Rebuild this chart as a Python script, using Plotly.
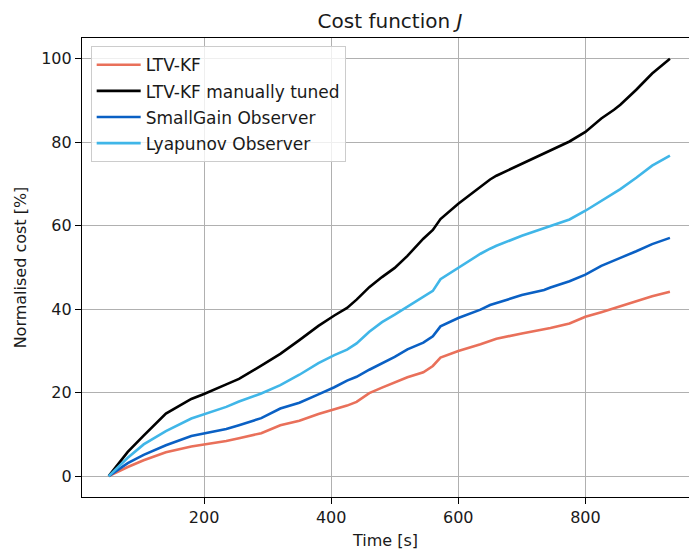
import plotly.graph_objects as go

# Time stamps [s] shared by all observers
time_s = [50, 80, 105, 140, 180, 200, 235, 255, 290, 320, 350, 380, 405, 425,
          440, 460, 480, 500, 520, 545, 560, 572, 600, 635, 650, 660, 700, 735,
          745, 775, 800, 825, 845, 855, 880, 905, 933]

# Normalised cumulative cost [%] per estimator
ltv_kf = [0, 2.2, 3.8, 5.7, 7.1, 7.6, 8.4, 9.1, 10.3, 12.2, 13.3, 14.9, 16.0, 16.9,
          17.8, 19.9, 21.2, 22.5, 23.7, 24.9, 26.4, 28.4, 30.0, 31.6, 32.4, 32.9, 34.2, 35.1,
          35.5, 36.6, 38.2, 39.3, 40.3, 40.8, 41.9, 43.1, 44.2]
ltv_kf_tuned = [0, 5.8, 9.7, 15.0, 18.5, 19.7, 22.0, 23.3, 26.5, 29.3, 32.6, 36.0, 38.5, 40.3,
                42.3, 45.3, 47.7, 49.9, 52.8, 56.9, 59.0, 61.6, 65.3, 69.5, 71.1, 72.0, 74.9, 77.3,
                78.0, 80.2, 82.5, 85.7, 87.8, 89.0, 92.6, 96.5, 100.0]
smallgain = [0, 3.1, 5.1, 7.4, 9.6, 10.2, 11.3, 12.2, 13.9, 16.2, 17.6, 19.6, 21.3, 22.9,
             23.8, 25.5, 27.0, 28.6, 30.4, 32.0, 33.5, 35.9, 37.9, 39.9, 41.0, 41.5, 43.4, 44.6,
             45.2, 46.7, 48.3, 50.4, 51.6, 52.3, 53.9, 55.6, 57.1]
lyapunov = [0, 4.4, 7.6, 10.8, 13.8, 14.8, 16.6, 17.9, 19.8, 21.8, 24.3, 27.1, 29.0, 30.3,
            31.8, 34.6, 36.9, 38.7, 40.6, 43.0, 44.4, 47.2, 49.9, 53.3, 54.5, 55.2, 57.6, 59.5,
            60.0, 61.5, 63.6, 66.0, 67.9, 68.8, 71.5, 74.4, 76.8]

series = [
    ("LTV-KF", ltv_kf, "#E9705A"),
    ("LTV-KF manually tuned", ltv_kf_tuned, "#000000"),
    ("SmallGain Observer", smallgain, "#0A60C4"),
    ("Lyapunov Observer", lyapunov, "#40B6E8"),
]

FONT = "DejaVu Sans"

fig = go.Figure()
for i, (name, vals, color) in enumerate(series):
    fig.add_trace(go.Scatter(
        x=time_s, y=vals, mode="lines", name=name,
        legendgroup=f"g{i}",
        line=dict(color=color, width=2.6),
    ))

axis_common = dict(
    showgrid=True, gridcolor="#b0b0b0", gridwidth=1.2,
    zeroline=False,
    showline=True, linecolor="#000000", linewidth=1.2,
    ticks="outside", ticklen=6, tickwidth=1.2, tickcolor="#000000",
    tickfont=dict(family=FONT, size=16, color="#1a1a1a"),
)

fig.update_layout(
    width=689, height=550,
    margin=dict(l=82, r=0, t=38, b=53),
    paper_bgcolor="white", plot_bgcolor="white",
    font=dict(family=FONT, size=16, color="#1a1a1a"),
    title=dict(
        text="Cost function <i>J</i>",
        font=dict(family=FONT, size=20, color="#1a1a1a"),
        x=390 / 689, xref="container", xanchor="center",
        y=1 - 21 / 550, yref="container", yanchor="middle",
    ),
    xaxis=dict(
        **axis_common,
        range=[8, 963],
        tickvals=[200, 400, 600, 800],
        mirror=True,
        title=dict(text="Time [s]", font=dict(family=FONT, size=16), standoff=8),
    ),
    yaxis=dict(
        **axis_common,
        range=[-5, 105],
        tickvals=[0, 20, 40, 60, 80, 100],
        title=dict(text="Normalised cost [%]", font=dict(family=FONT, size=16), standoff=10),
    ),
    legend=dict(
        x=0.0143, y=0.982, xanchor="left", yanchor="top",
        bgcolor="rgba(255,255,255,0.8)", bordercolor="#cccccc", borderwidth=1,
        font=dict(family=FONT, size=17, color="#1a1a1a"),
        tracegroupgap=1, traceorder="grouped",
        itemwidth=44,
    ),
    showlegend=True,
)

fig.write_html("out.html")
